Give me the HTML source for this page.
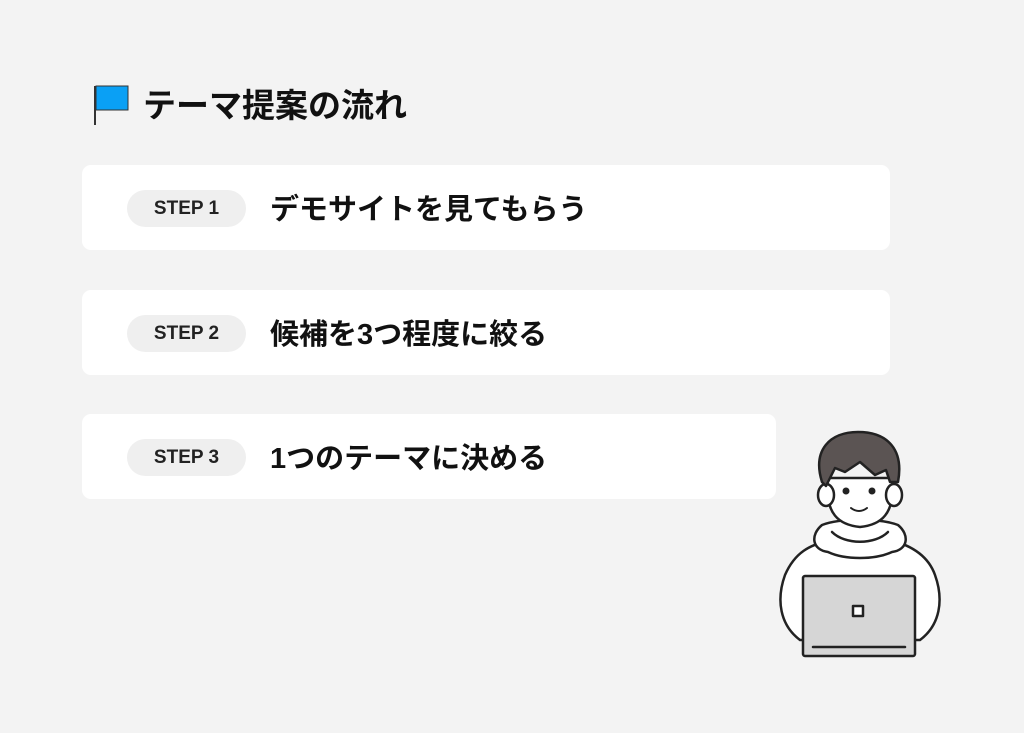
<!DOCTYPE html>
<html><head><meta charset="utf-8"><style>
body{margin:0;width:1024px;height:733px;background:#f3f3f3;position:relative;overflow:hidden;font-family:"Liberation Sans","Noto Sans CJK JP",sans-serif;color:#111}
.card{position:absolute;left:82px;background:#fff;border-radius:9px;height:85px}
.pill{position:absolute;left:45px;top:25px;width:119px;height:37px;border-radius:19px;background:#efefef;font-weight:bold;font-size:19px;line-height:37px;text-align:center;color:#222}
.t{position:absolute;left:188px;top:3px;line-height:85px;font-size:29px;font-weight:bold}
</style></head><body>
<svg style="position:absolute;left:92px;top:84px" width="40" height="44"><line x1="3" y1="2" x2="3" y2="41" stroke="#333" stroke-width="2"/><rect x="4" y="2" width="32" height="24" fill="#0aa0f5" stroke="#333" stroke-width="1"/></svg>
<div style="position:absolute;left:143px;top:86px;font-size:33px;font-weight:bold;line-height:40px">テーマ提案の流れ</div>
<div class="card" style="top:165px;width:808px"><div class="pill">STEP 1</div><div class="t">デモサイトを見てもらう</div></div>
<div class="card" style="top:290px;width:808px"><div class="pill">STEP 2</div><div class="t">候補を3つ程度に絞る</div></div>
<div class="card" style="top:414px;width:694px"><div class="pill">STEP 3</div><div class="t">1つのテーマに決める</div></div>
<svg style="position:absolute;left:0;top:0" width="1024" height="733" fill="none" stroke="#222" stroke-width="2.5" stroke-linejoin="round" stroke-linecap="round">
<path d="M800 640 C780 625 776 600 785 575 C795 552 810 545 830 540 L890 540 C910 545 928 555 935 575 C944 600 940 625 920 640 Z" fill="#fff"/>
<path d="M822 525 C810 535 812 550 828 552 C845 560 875 560 892 552 C908 550 910 535 898 525 C880 518 840 518 822 525Z" fill="#fff"/>
<path d="M832 532 C845 545 875 545 888 532"/>
<path d="M828 478 C824 515 840 525 860 527 C880 525 896 515 892 478 Z" fill="#fff"/>
<ellipse cx="826" cy="495" rx="8" ry="11" fill="#fff"/><ellipse cx="894" cy="495" rx="8" ry="11" fill="#fff"/>
<path d="M822 482 C812 450 830 432 858 432 C888 432 904 450 898 482 L890 482 L886 470 L875 475 L860 462 L845 472 L835 468 L826 486 Z" fill="#5b5453"/>
<circle cx="846" cy="491" r="3.5" fill="#222" stroke="none"/><circle cx="872" cy="491" r="3.5" fill="#222" stroke="none"/>
<path d="M851 508 C856 512 862 512 867 508" stroke-width="2"/>
<rect x="803" y="576" width="112" height="80" rx="2" fill="#d6d6d6"/>
<rect x="853" y="606" width="10" height="10" fill="#fff"/>
<line x1="813" y1="647" x2="905" y2="647"/>
</svg>
</body></html>
